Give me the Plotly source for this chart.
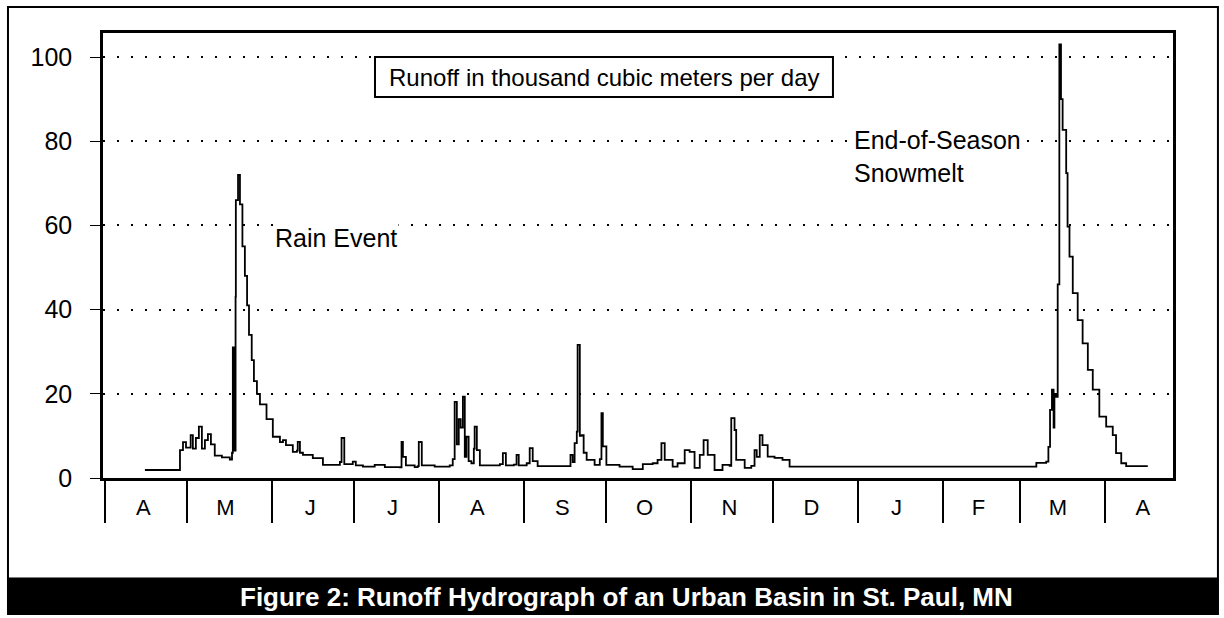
import pandas as pd
import plotly.graph_objects as go

record_start = "1990-04-01"   # first day of the record (April)
days = [14.6, 26.6, 27.4, 28.5, 29.6, 31.3, 32.1, 33.2, 34.3, 35.4, 36.5, 37.6, 38.7, 40.1, 42.7,
        45.6, 46.4, 46.7, 47.1, 47.7, 47.8, 48.6, 49.3, 50.2, 51.1, 51.9, 52.6, 53.6, 54.4, 55.5,
        56.6, 59.0, 61.3, 63.9, 65.0, 66.1, 68.6, 70.1, 70.4, 71.2, 72.3, 75.9, 79.6, 84.7, 85.8,
        86.4, 86.9, 87.4, 90.5, 91.6, 94.2, 98.5, 102.2, 107.7, 108.3, 108.8, 109.9, 113.1, 114.2,
        114.6, 115.3, 115.7, 120.4, 125.9, 127.0, 127.7, 128.5, 129.2, 129.9, 130.7, 131.4, 132.0,
        132.8, 133.8, 134.7, 135.0, 135.8, 136.9, 140.5, 144.2, 145.3, 146.4, 149.3, 150.3, 151.1,
        154.0, 155.1, 156.2, 158.0, 168.6, 170.0, 170.8, 171.5, 172.3, 172.6, 173.4, 174.1, 174.8,
        175.9, 178.8, 180.7, 181.3, 181.8, 183.1, 187.9, 192.7, 196.4, 200.0, 201.8, 203.2, 204.4,
        207.3, 209.1, 211.7, 213.5, 215.3, 217.2, 218.6, 220.1, 222.6, 225.5, 228.1, 228.7, 229.9,
        230.5, 233.6, 236.0, 237.2, 238.0, 239.1, 240.1, 242.0, 244.5, 247.4, 250.0, 338.7, 340.1,
        343.7, 344.5, 345.1, 345.8, 346.4, 346.7, 347.3, 347.9, 348.5, 349.1, 349.7, 351.0, 351.5,
        352.2, 353.4, 355.2, 357.0, 358.9, 360.7, 363.1, 365.6, 368.0, 369.2, 371.1, 372.9, 380.8]
runoff = [1.9, 1.9, 6.6, 8.5, 7.2, 10.2, 7.0, 9.5, 12.2, 7.0, 9.0, 10.4, 8.0, 5.3, 4.9,
          4.4, 6.0, 31, 6.5, 43, 66, 72, 65, 55, 48, 41, 34, 28, 23, 20,
          17.5, 14, 9.8, 8.5, 9.0, 7.8, 6.2, 6.5, 8.6, 6.0, 5.5, 4.7, 3.1, 3.1, 3.8,
          9.5, 9.5, 3.3, 3.9, 3.0, 2.7, 3.1, 2.6, 2.5, 8.6, 5.0, 3.0, 2.6, 2.8,
          8.6, 8.5, 3.0, 2.7, 3.0, 4.5, 18.1, 8.0, 14, 12, 19.3, 5, 9.8,
          4, 3.5, 7, 12.2, 6.6, 3.0, 3.0, 3.3, 5.9, 3.0, 3.2, 5.5, 3.0,
          3.5, 7.1, 4.0, 2.8, 2.8, 5.5, 3.8, 8.3, 11, 31.6, 10, 10.2, 6,
          4.3, 3.1, 4.5, 15.4, 7.5, 3.1, 2.7, 2.1, 3.3, 3.5, 4.3, 8.3, 4.3,
          2.7, 3.5, 6.6, 6.2, 2.4, 5.5, 9.0, 5.5, 1.9, 3.1, 2.9, 14.2, 11.4,
          4.3, 2.4, 2.9, 6.6, 5.0, 10.2, 7.8, 5.1, 4.8, 4.3, 2.7, 2.7, 3.6,
          3.9, 7.4, 16.2, 21, 12, 20, 19.3, 46, 103, 90, 82.7, 72.4, 59.7,
          52.6, 43.9, 37.5, 32, 25.7, 21, 14.6, 12.2, 10.2, 5.9, 3.5, 2.8, 2.8]

month_starts = ["1990-04-01", "1990-05-01", "1990-06-01", "1990-07-01", "1990-08-01",
                "1990-09-01", "1990-10-01", "1990-11-01", "1990-12-01", "1991-01-01",
                "1991-02-01", "1991-03-01", "1991-04-01"]
month_mids = ["1990-04-15", "1990-05-15", "1990-06-15", "1990-07-15", "1990-08-15",
              "1990-09-15", "1990-10-15", "1990-11-15", "1990-12-15", "1991-01-15",
              "1991-02-14", "1991-03-15", "1991-04-15"]
month_labels = ["A", "M", "J", "J", "A", "S", "O", "N", "D", "J", "F", "M", "A"]
y_ticks = [0, 20, 40, 60, 80, 100]

box_text = "Runoff in thousand cubic meters per day"
rain_text = "Rain Event"
melt_text = "End-of-Season<br>Snowmelt"
title_text = "Figure 2: Runoff Hydrograph of an Urban Basin in St. Paul, MN"

dates = pd.to_datetime(record_start) + pd.to_timedelta(days, unit="D")

FONT = "Liberation Sans, Arial, sans-serif"

fig = go.Figure()
fig.add_trace(go.Scatter(x=dates, y=runoff, mode="lines",
                         line=dict(color="black", width=1.8, shape="hv"),
                         showlegend=False, hoverinfo="x+y"))

fig.update_layout(
    width=1224, height=618,
    margin=dict(l=103, r=51, t=33, b=140),
    paper_bgcolor="white", plot_bgcolor="white",
    font=dict(family=FONT, color="black"),
    xaxis=dict(
        type="date",
        range=["1990-03-31 07:00", "1991-04-26 00:00"],
        tickmode="array", tickvals=month_mids, ticktext=month_labels,
        ticks="", ticklabelstandoff=8,
        tickfont=dict(size=22, family=FONT, color="black"),
        showgrid=False, zeroline=False,
        showline=True, linecolor="black", linewidth=2.5, mirror=True,
        minor=dict(tickmode="array", tickvals=month_starts, ticks="outside",
                   ticklen=42, tickwidth=1.5, tickcolor="black", showgrid=False),
    ),
    yaxis=dict(
        range=[0, 105.7],
        tickmode="array", tickvals=y_ticks,
        ticks="outside", ticklen=10, tickwidth=1.2, tickcolor="black",
        ticklabelstandoff=13,
        tickfont=dict(size=25, family=FONT, color="black"),
        showgrid=True, gridcolor="black", gridwidth=1.5, griddash="2px,12px",
        zeroline=False,
        showline=True, linecolor="black", linewidth=2.5, mirror=True,
    ),
    shapes=[
        # outer figure frame
        dict(type="rect", xref="paper", yref="paper", x0=-0.0888, x1=1.042, y0=-0.3056, y1=1.0584,
             line=dict(color="black", width=2), fillcolor="rgba(0,0,0,0)", layer="above"),
        # caption banner
        dict(type="rect", xref="paper", yref="paper", x0=-0.0888, x1=1.042, y0=-0.3056, y1=-0.2247,
             line=dict(color="black", width=1), fillcolor="black", layer="above"),
        # units box
        dict(type="rect", xref="paper", yref="paper", x0=0.2542, x1=0.6822, y0=0.8562, y1=0.946,
             line=dict(color="black", width=2), fillcolor="white", layer="above"),
    ],
    annotations=[
        dict(text=box_text, xref="paper", yref="paper", x=0.468, y=0.901,
             showarrow=False, font=dict(size=24, family=FONT, color="black"),
             xanchor="center", yanchor="middle"),
        dict(text=rain_text, xref="paper", yref="paper", x=0.1589, y=0.539,
             showarrow=False, bgcolor="white", font=dict(size=25, family=FONT, color="black"),
             xanchor="left", yanchor="middle"),
        dict(text=melt_text, xref="paper", yref="paper", x=0.700, y=0.7225,
             showarrow=False, align="left", bgcolor="white",
             font=dict(size=25, family=FONT, color="black"),
             xanchor="left", yanchor="middle"),
        dict(text="<b>" + title_text + "</b>", xref="paper", yref="paper", x=0.4888, y=-0.2674,
             showarrow=False, font=dict(size=26, family=FONT, color="white"),
             xanchor="center", yanchor="middle"),
    ],
)

fig.write_html("out.html", config={"displayModeBar": False},
               post_script="document.body.style.margin='0';document.body.style.overflow='hidden';")
